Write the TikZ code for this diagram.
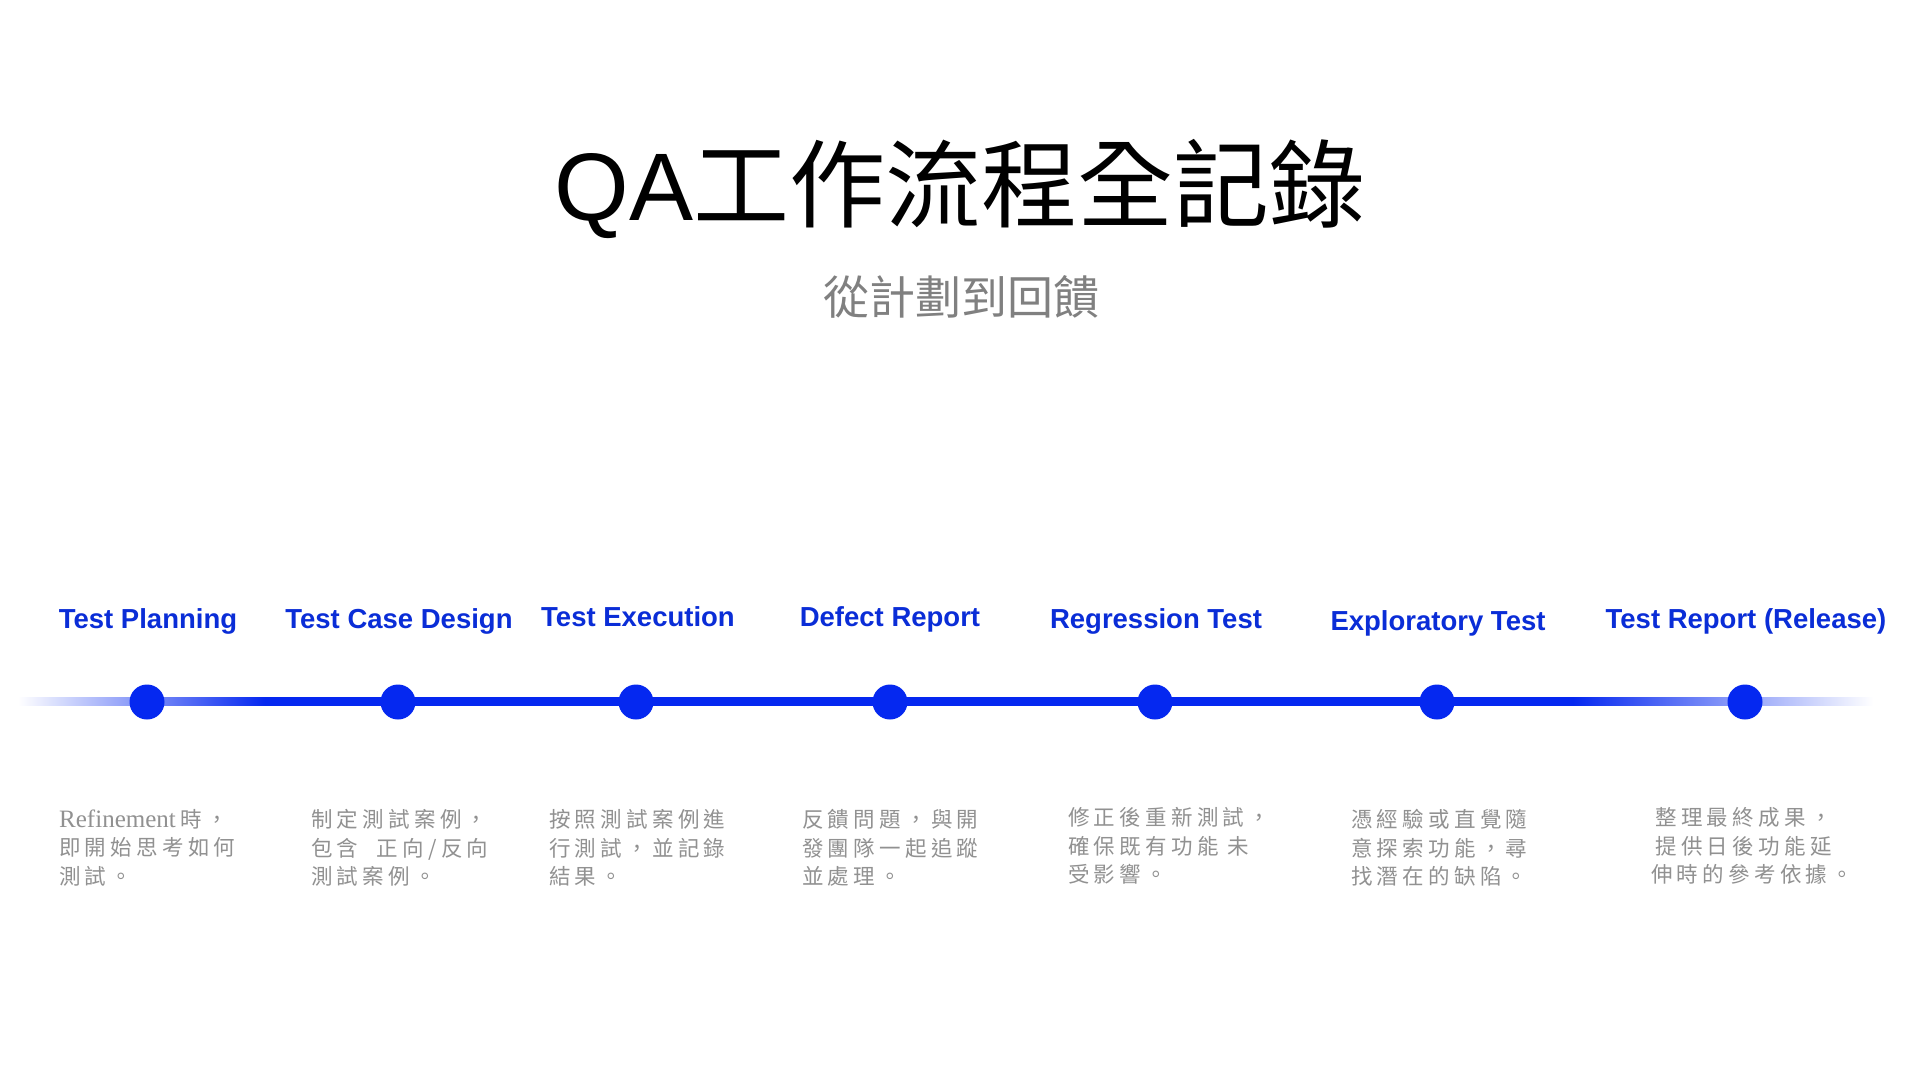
\documentclass[tikz,border=0pt]{standalone}
\usepackage{fontspec}
\setmainfont{Liberation Sans}
\newfontfamily\cjk{Noto Sans CJK TC}
\newfontfamily\cjkd[LetterSpace=20]{Noto Sans CJK TC}
\newfontfamily\serifd{Liberation Serif}
\definecolor{tlblue}{RGB}{5,40,240}
\definecolor{lblblue}{RGB}{10,45,215}
\definecolor{descgray}{RGB}{145,145,145}
\definecolor{subgray}{RGB}{128,128,128}
\pgfdeclarehorizontalshading{tlfade}{100bp}{color(0bp)=(white); color(25bp)=(white); color(31.65bp)=(tlblue); color(66.9bp)=(tlblue); color(75bp)=(white); color(100bp)=(white)}
\tikzset{
  dot/.style={circle, fill=tlblue, minimum size=35pt, inner sep=0pt},
  lbl/.style={font=\fontsize{27.5}{30}\selectfont\bfseries, text=lblblue, anchor=base, inner sep=0pt},
  desc/.style={font={\cjkd\fontsize{21.5}{28.7}\selectfont}, text=descgray, align=left, anchor=north west, inner sep=0pt},
}
\begin{document}
\begin{tikzpicture}[x=1pt,y=-1pt]
\path[use as bounding box, fill=white] (0,0) rectangle (1920,1080);
% title
\node[anchor=base, inner sep=0pt, font=\fontsize{96}{96}\selectfont] (title) at (960,220) {QA{\cjk 工作流程全記錄}};
\node[anchor=base, inner sep=0pt, text=subgray, font={\cjk\fontsize{46}{46}\selectfont}] (sub) at (961,314) {從計劃到回饋};
% timeline
\coordinate (L0) at (18,697);
\coordinate (L3) at (1873,705);
\shade[shading=tlfade] (L0) rectangle (L3);
% dots
\node[dot] (d1) at (147,702) {};
\node[dot] (d2) at (398,702) {};
\node[dot] (d3) at (636,702) {};
\node[dot] (d4) at (890,702) {};
\node[dot] (d5) at (1155,702) {};
\node[dot] (d6) at (1437,702) {};
\node[dot] (d7) at (1745,702) {};
% labels
\node[lbl] (t1) at (148,628) {Test Planning};
\node[lbl] (t2) at (399,628) {Test Case Design};
\node[lbl] (t3) at (638,626) {Test Execution};
\node[lbl] (t4) at (890,626) {Defect Report};
\node[lbl] (t5) at (1156,628) {Regression Test};
\node[lbl] (t6) at (1438,630) {Exploratory Test};
\node[lbl] (t7) at (1746,628) {Test Report (Release)};
% descriptions
\node[desc] (e1) at (59,809) {{\serifd\fontsize{25pt}{28.7pt}\selectfont Refinement}\hspace{5pt}時，\\即開始思考如何\\測試。};
\node[desc] (e2) at (311,809) {制定測試案例，\\包含\ \ 正向/反向\\測試案例。};
\node[desc] (e3) at (549,809) {按照測試案例進\\行測試，並記錄\\結果。};
\node[desc] (e4) at (802,809) {反饋問題，與開\\發團隊一起追蹤\\並處理。};
\node[desc] (e5) at (1068,807) {修正後重新測試，\\確保既有功能 未\\受影響。};
\node[desc] (e6) at (1351,809) {憑經驗或直覺隨\\意探索功能，尋\\找潛在的缺陷。};
\node[desc] (e7) at (1651,807) {\hspace{4pt}整理最終成果，\\\hspace{4pt}提供日後功能延\\伸時的參考依據。};
\end{tikzpicture}
\end{document}
